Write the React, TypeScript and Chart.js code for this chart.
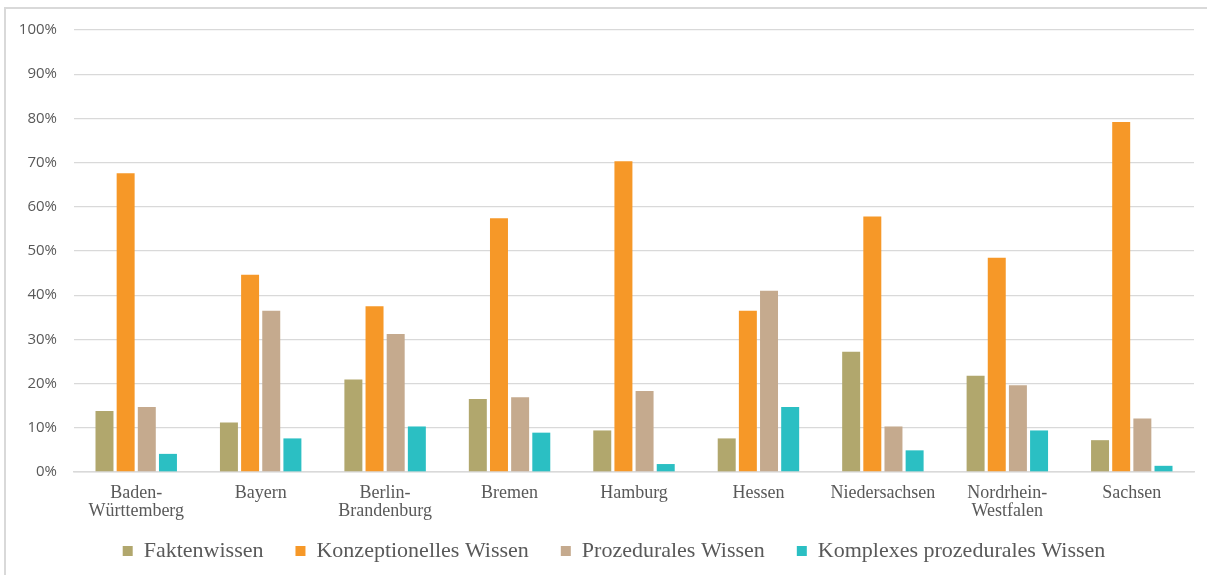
import React, { useEffect, useRef } from "react";
import { Chart, registerables } from "chart.js";

Chart.register(...registerables);

const categories: (string | string[])[] = [
  ["Baden-", "Württemberg"],
  "Bayern",
  ["Berlin-", "Brandenburg"],
  "Bremen",
  "Hamburg",
  "Hessen",
  "Niedersachsen",
  ["Nordrhein-", "Westfalen"],
  "Sachsen",
];

const faktenwissen = [13.8, 11.2, 20.9, 16.5, 9.4, 7.6, 27.2, 21.8, 7.2];
const konzeptionell = [67.6, 44.6, 37.5, 57.4, 70.3, 36.5, 57.8, 48.5, 79.2];
const prozedural = [14.7, 36.5, 31.2, 16.9, 18.3, 41.0, 10.3, 19.6, 12.1];
const komplex = [4.1, 7.6, 10.3, 8.9, 1.8, 14.7, 4.9, 9.4, 1.4];

const seriesNames = [
  "Faktenwissen",
  "Konzeptionelles Wissen",
  "Prozedurales Wissen",
  "Komplexes prozedurales Wissen",
];
const seriesColors = ["#B1A76D", "#F69828", "#C5AA8E", "#2BBFC3"];
const yTicks = [0, 10, 20, 30, 40, 50, 60, 70, 80, 90, 100];

const legendShift = {
  id: "legendShift",
  afterLayout(chart: any) {
    const lg = chart.legend;
    if (!lg) return;
    lg.top -= 24;
    lg.bottom -= 24;
    lg.left += 17;
    lg.right += 17;
  },
};

export default function App() {
  const ref = useRef<HTMLCanvasElement | null>(null);

  useEffect(() => {
    if (!ref.current) return;
    const values = [faktenwissen, konzeptionell, prozedural, komplex];
    const chart = new Chart(ref.current, {
      type: "bar",
      data: {
        labels: categories,
        datasets: values.map((v, i) => ({
          label: seriesNames[i],
          data: v,
          backgroundColor: seriesColors[i],
          borderWidth: 0,
          categoryPercentage: 0.68,
          barPercentage: 0.85,
        })),
      },
      plugins: [legendShift],
      options: {
        animation: false,
        responsive: false,
        maintainAspectRatio: false,
        layout: { padding: { top: 30, right: 13, left: 0, bottom: -21 } },
        plugins: {
          tooltip: { enabled: false },
          legend: {
            position: "bottom",
            labels: {
              boxWidth: 10,
              boxHeight: 10,
              padding: 32,
              color: "#595959",
              font: { family: "'Liberation Serif', serif", size: 22 },
            },
          },
        },
        scales: {
          x: {
            grid: { display: false, drawTicks: false },
            border: { display: true, color: "#d9d9d9", width: 1.5 },
            ticks: {
              color: "#595959",
              padding: 12,
              maxRotation: 0,
              autoSkip: false,
              font: { family: "'Liberation Serif', serif", size: 18, lineHeight: 1.0 },
            },
          },
          y: {
            min: 0,
            max: 100,
            afterFit: (scale: any) => {
              scale.width = 74;
            },
            afterBuildTicks: (scale: any) => {
              scale.ticks = yTicks.map((v) => ({ value: v }));
            },
            grid: { color: "#d9d9d9", lineWidth: 1.3, drawTicks: false },
            border: { display: false },
            ticks: {
              color: "#595959",
              padding: 17,
              font: { family: "'Open Sans', sans-serif", size: 15 },
              callback: (v: any) => `${v}%`,
            },
          },
        },
      },
    });
    return () => chart.destroy();
  }, []);

  return (
    <div
      style={{
        position: "fixed",
        left: 0,
        top: 0,
        width: 1207,
        height: 575,
        overflow: "hidden",
        background: "#fff",
      }}
    >
      <div
        style={{
          position: "absolute",
          left: 4,
          top: 7,
          width: 1230,
          height: 600,
          border: "2px solid #d9d9d9",
        }}
      />
      <canvas
        ref={ref}
        width={1207}
        height={575}
        style={{ position: "absolute", left: 0, top: 0 }}
      />
    </div>
  );
}
